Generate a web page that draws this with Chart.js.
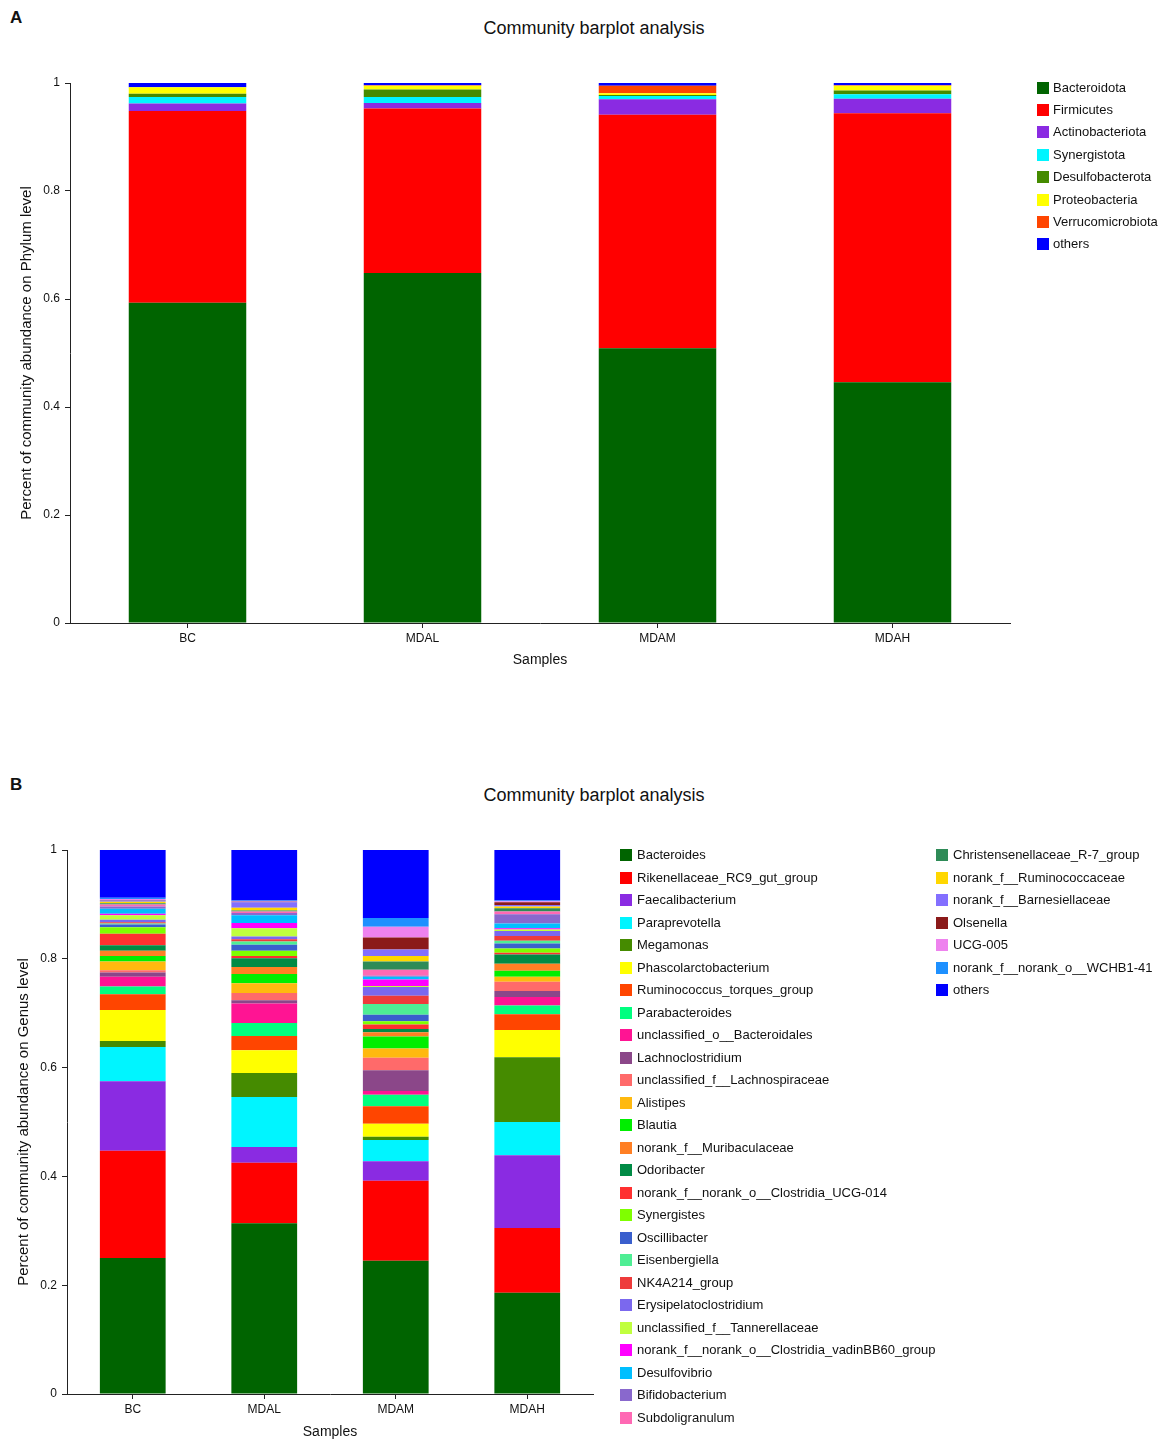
<!DOCTYPE html>
<html>
<head>
<meta charset="utf-8">
<script src="https://cdn.jsdelivr.net/npm/chart.js@4.4.1/dist/chart.umd.min.js"></script>
<style>
  html, body { margin: 0; padding: 0; background: #fff; }
  body { width: 1170px; height: 1447px; position: relative; overflow: hidden;
         font-family: "Liberation Sans", Arial, Helvetica, sans-serif; color: #111; }
  .panel-letter { position: absolute; font-weight: bold; font-size: 17px; left: 10px; }
  .title { position: absolute; font-size: 18px; transform: translateX(-50%); white-space: nowrap; }
  .box { position: absolute; }
  .legend { position: absolute; font-size: 13px; }
  .legend .item { position: absolute; white-space: nowrap; height: 14px; line-height: 14px; }
  .legend .sw { position: absolute; left: 0; top: 1px; width: 12px; height: 12px; }
  .legend .tx { position: absolute; top: 0; }
</style>
</head>
<body>
<div class="panel-letter" style="top:8px;">A</div>
<div class="title" style="left:594px; top:18px;">Community barplot analysis</div>
<div class="box" id="boxA" style="left:0; top:0; width:1170px; height:680px;"><canvas id="chartA"></canvas></div>
<div class="legend" id="legendA"></div>

<div class="panel-letter" style="top:775px;">B</div>
<div class="title" style="left:594px; top:785px;">Community barplot analysis</div>
<div class="box" id="boxB" style="left:0; top:700px; width:1170px; height:747px;"><canvas id="chartB"></canvas></div>
<div class="legend" id="legendB"></div>

<script>
// ---------- DATA ----------
const samples = ['BC', 'MDAL', 'MDAM', 'MDAH'];

const phylumNames = ['Bacteroidota', 'Firmicutes', 'Actinobacteriota', 'Synergistota',
  'Desulfobacterota', 'Proteobacteria', 'Verrucomicrobiota', 'others'];
const phylumColors = ['#006400', '#FF0000', '#8A2BE2', '#00F5FF', '#458B00', '#FFFF00', '#FF4500', '#0000FF'];
// values per sample, in phylumNames order
const phylumBC   = [0.593, 0.355, 0.014, 0.012, 0.006, 0.012, 0.000, 0.008];
const phylumMDAL = [0.648, 0.305, 0.010, 0.011, 0.014, 0.007, 0.001, 0.004];
const phylumMDAM = [0.509, 0.432, 0.029, 0.006, 0.002, 0.003, 0.014, 0.005];
const phylumMDAH = [0.446, 0.498, 0.027, 0.008, 0.007, 0.009, 0.001, 0.004];

const genusNames = ['Bacteroides', 'Rikenellaceae_RC9_gut_group', 'Faecalibacterium', 'Paraprevotella',
  'Megamonas', 'Phascolarctobacterium', 'Ruminococcus_torques_group', 'Parabacteroides',
  'unclassified_o__Bacteroidales', 'Lachnoclostridium', 'unclassified_f__Lachnospiraceae', 'Alistipes',
  'Blautia', 'norank_f__Muribaculaceae', 'Odoribacter', 'norank_f__norank_o__Clostridia_UCG-014',
  'Synergistes', 'Oscillibacter', 'Eisenbergiella', 'NK4A214_group', 'Erysipelatoclostridium',
  'unclassified_f__Tannerellaceae', 'norank_f__norank_o__Clostridia_vadinBB60_group', 'Desulfovibrio',
  'Bifidobacterium', 'Subdoligranulum', 'Christensenellaceae_R-7_group', 'norank_f__Ruminococcaceae',
  'norank_f__Barnesiellaceae', 'Olsenella', 'UCG-005', 'norank_f__norank_o__WCHB1-41', 'others'];
const genusColors = ['#006400', '#FF0000', '#8A2BE2', '#00F5FF', '#458B00', '#FFFF00', '#FF4500', '#00FF7F',
  '#FF1493', '#8B4789', '#FF6A6A', '#FFB90F', '#00EE00', '#FF7F24', '#008B45', '#FF3030',
  '#7FFF00', '#3A5FCD', '#4EEE94', '#EE3B3B', '#7B68EE', '#C0FF3E', '#FF00FF', '#00BFFF',
  '#8968CD', '#FF69B4', '#2E8B57', '#FFD700', '#836FFF', '#8B1A1A', '#EE82EE', '#1E90FF', '#0000FF'];
// values per sample, in genusNames order
const genusBC   = [0.250, 0.197, 0.128, 0.063, 0.011, 0.057, 0.029, 0.014, 0.018, 0.008, 0.004, 0.016,
  0.010, 0.010, 0.010, 0.021, 0.012, 0.005, 0.002, 0.002, 0.005, 0.008, 0.003, 0.009,
  0.004, 0.004, 0.002, 0.003, 0.002, 0.001, 0.002, 0.002, 0.088];
const genusMDAL = [0.314, 0.111, 0.029, 0.092, 0.044, 0.042, 0.026, 0.024, 0.036, 0.006, 0.013, 0.018,
  0.017, 0.013, 0.016, 0.004, 0.010, 0.011, 0.006, 0.004, 0.005, 0.015, 0.010, 0.014,
  0.004, 0.003, 0.002, 0.005, 0.010, 0.001, 0.001, 0.001, 0.093];
const genusMDAM = [0.245, 0.147, 0.036, 0.039, 0.006, 0.024, 0.032, 0.021, 0.007, 0.038, 0.023, 0.017,
  0.022, 0.008, 0.006, 0.008, 0.006, 0.012, 0.020, 0.015, 0.016, 0.002, 0.012, 0.005,
  0.002, 0.011, 0.015, 0.010, 0.012, 0.022, 0.020, 0.016, 0.125];
const genusMDAH = [0.186, 0.119, 0.134, 0.061, 0.119, 0.050, 0.029, 0.016, 0.016, 0.011, 0.017, 0.009,
  0.011, 0.013, 0.017, 0.003, 0.008, 0.009, 0.005, 0.009, 0.009, 0.003, 0.002, 0.009,
  0.017, 0.005, 0.006, 0.003, 0.003, 0.005, 0.002, 0.001, 0.093];

const yTicks = [0, 0.2, 0.4, 0.6, 0.8, 1];
const yTickLabels = ['0', '0.2', '0.4', '0.6', '0.8', '1'];

// ---------- BUILD ----------
Chart.defaults.font.family = '"Liberation Sans", Arial, Helvetica, sans-serif';
Chart.defaults.color = '#111';

function buildDatasets(names, colors, perSample) {
  return names.map((n, i) => ({
    label: n,
    data: perSample.map(arr => arr[i]),
    backgroundColor: colors[i],
    borderWidth: 0,
    barPercentage: 0.5,
    categoryPercentage: 1.0
  }));
}

function makeChart(canvasId, datasets, opt) {
  return new Chart(document.getElementById(canvasId), {
    type: 'bar',
    data: { labels: samples, datasets: datasets },
    options: {
      responsive: true,
      maintainAspectRatio: false,
      animation: false,
      layout: { padding: { top: opt.padTop, right: opt.padRight, left: 0, bottom: 0 } },
      plugins: { legend: { display: false }, title: { display: false }, tooltip: { enabled: false } },
      scales: {
        x: {
          stacked: true,
          grid: { display: true, drawOnChartArea: false, drawTicks: true, tickLength: 5, color: '#222', offset: false },
          border: { display: true, color: '#222', width: 1 },
          ticks: { font: { size: 12 }, color: '#111', padding: 3 },
          title: { display: true, text: 'Samples', font: { size: 14 }, color: '#111', padding: { top: 0, bottom: opt.xTitlePad } },
          afterFit: s => { s.height = opt.xHeight; }
        },
        y: {
          stacked: true,
          min: 0, max: 1,
          afterBuildTicks: s => { s.ticks = yTicks.map(v => ({ value: v })); },
          grid: { display: true, drawOnChartArea: false, drawTicks: true, tickLength: 5, color: '#222' },
          border: { display: true, color: '#222', width: 1 },
          ticks: {
            font: { size: 12 }, color: '#111', padding: 5,
            callback: (v) => { const k = yTicks.indexOf(v); return k >= 0 ? yTickLabels[k] : ''; }
          },
          title: { display: true, text: opt.yTitle, font: { size: 15 }, color: '#111', padding: { top: opt.yTitlePad, bottom: 0 } },
          afterFit: s => { s.width = opt.yWidth; }
        }
      }
    }
  });
}

makeChart('chartA',
  buildDatasets(phylumNames, phylumColors, [phylumBC, phylumMDAL, phylumMDAM, phylumMDAH]),
  { padTop: 83, padRight: 160, xHeight: 57, xTitlePad: 11.6, yWidth: 70, yTitlePad: 18,
    yTitle: 'Percent of community abundance on Phylum level' });

makeChart('chartB',
  buildDatasets(genusNames, genusColors, [genusBC, genusMDAL, genusMDAM, genusMDAH]),
  { padTop: 150, padRight: 577, xHeight: 53, xTitlePad: 6.6, yWidth: 67, yTitlePad: 15,
    yTitle: 'Percent of community abundance on Genus level' });

// ---------- LEGENDS (HTML) ----------
function buildLegend(containerId, names, colors, columns) {
  const c = document.getElementById(containerId);
  names.forEach((n, i) => {
    let col = columns.find(cc => i >= cc.from && i < cc.to);
    const k = i - col.from;
    const it = document.createElement('div');
    it.className = 'item';
    it.style.left = col.x + 'px';
    it.style.top = (col.y0 + k * col.dy - 7) + 'px';
    const sw = document.createElement('span');
    sw.className = 'sw';
    sw.style.background = colors[i];
    const tx = document.createElement('span');
    tx.className = 'tx';
    tx.style.left = col.tx + 'px';
    tx.textContent = n;
    it.appendChild(sw); it.appendChild(tx);
    c.appendChild(it);
  });
}
buildLegend('legendA', phylumNames, phylumColors,
  [{ from: 0, to: 8, x: 1037, y0: 87.5, dy: 22.4, tx: 16 }]);
buildLegend('legendB', genusNames, genusColors,
  [{ from: 0, to: 26, x: 620, y0: 855, dy: 22.52, tx: 17 },
   { from: 26, to: 33, x: 936, y0: 855, dy: 22.52, tx: 17 }]);
</script>
</body>
</html>
